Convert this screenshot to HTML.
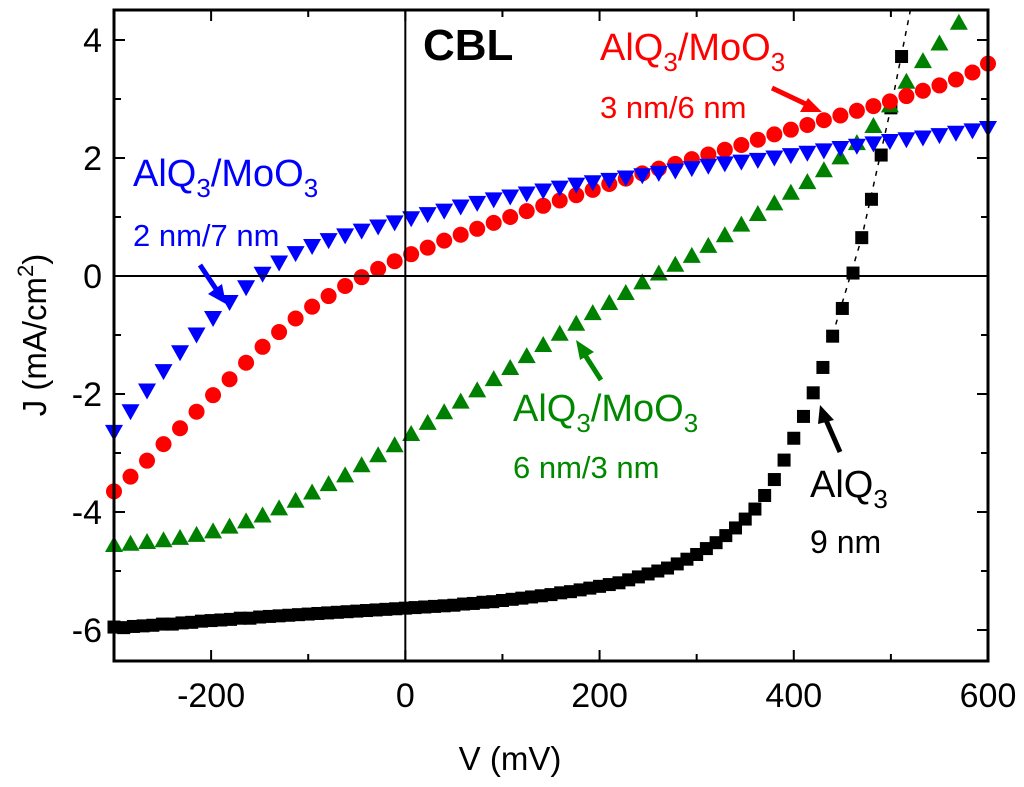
<!DOCTYPE html>
<html><head><meta charset="utf-8"><style>
body{margin:0;background:#fff;}
svg{display:block;font-family:"Liberation Sans",Arial,sans-serif;}
</style></head><body>
<svg id="chart" width="1024" height="787" xmlns="http://www.w3.org/2000/svg">
<g id="marks"></g>
<g id="axes"></g>
<text x="423" y="60" font-size="44" font-weight="bold" fill="#000">CBL</text>
<g fill="#f00" font-size="38">
<text x="600" y="60">AlQ<tspan font-size="26" dy="11">3</tspan><tspan dy="-11">/MoO</tspan><tspan font-size="26" dy="11">3</tspan></text>
<text x="600" y="118" font-size="31">3 nm/6 nm</text>
</g>
<g fill="#00f" font-size="38">
<text x="133" y="186">AlQ<tspan font-size="26" dy="11">3</tspan><tspan dy="-11">/MoO</tspan><tspan font-size="26" dy="11">3</tspan></text>
<text x="133" y="246" font-size="31">2 nm/7 nm</text>
</g>
<g fill="#080" font-size="38">
<text x="513" y="421">AlQ<tspan font-size="26" dy="11">3</tspan><tspan dy="-11">/MoO</tspan><tspan font-size="26" dy="11">3</tspan></text>
<text x="513" y="478" font-size="31">6 nm/3 nm</text>
</g>
<g fill="#000" font-size="38">
<text x="810" y="497">AlQ<tspan font-size="26" dy="11">3</tspan></text>
<text x="810" y="553" font-size="32">9 nm</text>
</g>
<g stroke-width="5">
<line x1="772" y1="88" x2="810" y2="106" stroke="#f00"/><polygon points="822,112 800,112 808,98" fill="#f00"/>
<line x1="200" y1="265" x2="218" y2="292" stroke="#00f"/><polygon points="226,304 208,294 222,284" fill="#00f"/>
<line x1="601" y1="380" x2="585" y2="355" stroke="#080"/><polygon points="576,340 594,352 580,360" fill="#080"/>
<line x1="840" y1="452" x2="826" y2="420" stroke="#000"/><polygon points="820,405 834,420 818,424" fill="#000"/>
</g>
<text x="510" y="770" font-size="33" text-anchor="middle" fill="#000">V (mV)</text>
<text transform="translate(46,335) rotate(-90)" font-size="33" text-anchor="middle" fill="#000">J (mA/cm<tspan font-size="22" dy="-13">2</tspan><tspan dy="13">)</tspan></text>
</svg>
<script>
const blackV=[-300,-290,-280,-270,-260,-250,-240,-230,-220,-210,-200,-190,-180,-170,-160,-150,-140,-130,-120,-110,-100,-90,-80,-70,-60,-50,-40,-30,-20,-10,0,10,20,30,40,50,60,70,80,90,100,110,120,130,140,150,160,170,180,190,200,210,220,230,240,250,260,270,280,290,300,310,320,330,340,350,360,370,380,390,400,410,420,430,440,450,461,470,480,490,500,511];
const blackJ=[-5.95,-5.96,-5.94,-5.93,-5.92,-5.9,-5.9,-5.88,-5.87,-5.85,-5.84,-5.83,-5.82,-5.8,-5.8,-5.78,-5.77,-5.76,-5.75,-5.74,-5.73,-5.72,-5.71,-5.7,-5.69,-5.68,-5.67,-5.66,-5.65,-5.64,-5.63,-5.62,-5.61,-5.6,-5.59,-5.58,-5.56,-5.55,-5.53,-5.52,-5.5,-5.48,-5.46,-5.44,-5.42,-5.4,-5.37,-5.35,-5.32,-5.29,-5.26,-5.23,-5.2,-5.15,-5.1,-5.05,-5.0,-4.95,-4.88,-4.8,-4.72,-4.62,-4.52,-4.4,-4.27,-4.12,-3.95,-3.72,-3.45,-3.12,-2.75,-2.38,-1.98,-1.55,-1.02,-0.55,0.05,0.65,1.3,2.05,2.85,3.72];
const redV=[-300,-283,-266,-249,-232,-215,-198,-181,-164,-147,-130,-113,-96,-79,-62,-45,-28,-11,6,23,40,57,74,91,108,125,142,159,176,193,210,227,244,261,278,295,312,329,346,363,380,397,414,431,448,465,482,499,516,533,550,567,584,600];
const redJ=[-3.65,-3.4,-3.13,-2.85,-2.58,-2.3,-2.02,-1.75,-1.47,-1.2,-0.95,-0.72,-0.52,-0.34,-0.17,-0.02,0.12,0.25,0.37,0.48,0.6,0.7,0.8,0.9,1.0,1.1,1.19,1.28,1.37,1.46,1.56,1.65,1.74,1.82,1.9,1.98,2.06,2.14,2.22,2.31,2.4,2.48,2.56,2.64,2.72,2.8,2.88,2.96,3.05,3.14,3.23,3.33,3.45,3.6];
const blueV=[-300,-283,-266,-249,-232,-215,-198,-181,-164,-147,-130,-113,-96,-79,-62,-45,-28,-11,6,23,40,57,74,91,108,125,142,159,176,193,210,227,244,261,278,295,312,329,346,363,380,397,414,431,448,465,482,499,516,533,550,567,584,600];
const blueJ=[-2.65,-2.3,-1.95,-1.62,-1.3,-1.0,-0.72,-0.45,-0.2,0.03,0.22,0.38,0.5,0.6,0.68,0.76,0.83,0.9,0.97,1.04,1.1,1.17,1.23,1.29,1.34,1.39,1.44,1.49,1.54,1.58,1.62,1.66,1.7,1.74,1.78,1.82,1.86,1.9,1.93,1.96,2.0,2.04,2.08,2.12,2.16,2.2,2.24,2.28,2.31,2.34,2.38,2.42,2.46,2.5];
const greenV=[-300,-283,-266,-249,-232,-215,-198,-181,-164,-147,-130,-113,-96,-79,-62,-45,-28,-11,6,23,40,57,74,91,108,125,142,159,176,193,210,227,244,261,278,295,312,329,346,363,380,397,414,431,448,465,482,499,516,533,550,570];
const greenJ=[-4.55,-4.53,-4.5,-4.47,-4.43,-4.38,-4.32,-4.24,-4.15,-4.05,-3.93,-3.8,-3.66,-3.52,-3.37,-3.2,-3.03,-2.86,-2.67,-2.48,-2.3,-2.12,-1.93,-1.74,-1.55,-1.35,-1.16,-0.97,-0.8,-0.62,-0.45,-0.28,-0.1,0.05,0.2,0.35,0.52,0.7,0.88,1.06,1.24,1.42,1.6,1.8,2.02,2.26,2.55,2.9,3.3,3.65,3.95,4.3];
const xTicks=[-200,0,200,400,600];
const yTicks=[-6,-4,-2,0,2,4];
const NS='http://www.w3.org/2000/svg';
const L=114,R=988,T=10,B=661;
const sx=v=>L+(v+300)/900*(R-L);
const sy=j=>276-j*59;
const marks=document.getElementById('marks'),axes=document.getElementById('axes');
function mk(tag,attrs,parent){const e=document.createElementNS(NS,tag);for(const k in attrs)e.setAttribute(k,attrs[k]);parent.appendChild(e);return e;}
let zl=mk('line',{x1:L,x2:R,y1:sy(0),y2:sy(0),stroke:'#000','stroke-width':2},axes);


let zv=mk('line',{x1:sx(0),x2:sx(0),y1:T,y2:B,stroke:'#000','stroke-width':2},axes);


let dl=mk('path',{d:'M'+sx(440)+','+sy(-1)+' L'+sx(470)+','+sy(0.65)+' L'+sx(500)+','+sy(2.85)+' L'+sx(520)+','+sy(4.5),fill:'none',stroke:'#000','stroke-width':1.5,'stroke-dasharray':'5,6'},marks);


function series(V,J,color,shape,name){
  const g=mk('g',{fill:color},marks);
  
  
  V.forEach((v,i)=>{
    const x=sx(v),y=sy(J[i]);let e;
    if(shape==='sq') e=mk('rect',{x:x-6.5,y:y-6.5,width:13,height:13},g);
    else if(shape==='ci') e=mk('circle',{cx:x,cy:y,r:8},g);
    else if(shape==='dn') e=mk('polygon',{points:`${x-9},${y-7.5} ${x+9},${y-7.5} ${x},${y+8.5}`},g);
    else e=mk('polygon',{points:`${x-9},${y+7.5} ${x+9},${y+7.5} ${x},${y-8.5}`},g);
    
    
  });
}
series(blackV,blackJ,'#000','sq','series-alq3-9nm');
series(greenV,greenJ,'#008000','up','series-6nm-3nm');
series(redV,redJ,'#f00','ci','series-3nm-6nm');
series(blueV,blueJ,'#00f','dn','series-2nm-7nm');
let fr=mk('rect',{x:L,y:T,width:R-L,height:B-T,fill:'none',stroke:'#000','stroke-width':3},axes);


for(let v=-300;v<=600;v+=100){const x=sx(v),len=(v%200===0)?11:7;
  mk('line',{x1:x,x2:x,y1:B,y2:B-len,stroke:'#000','stroke-width':2},axes);
  mk('line',{x1:x,x2:x,y1:T,y2:T+len,stroke:'#000','stroke-width':2},axes);}
for(let j=-6;j<=4;j+=1){const y=sy(j),len=(j%2===0)?11:7;
  mk('line',{x1:L,x2:L+len,y1:y,y2:y,stroke:'#000','stroke-width':2},axes);
  mk('line',{x1:R,x2:R-len,y1:y,y2:y,stroke:'#000','stroke-width':2},axes);}
xTicks.forEach(v=>{const t=mk('text',{x:sx(v),y:707,'font-size':34,'text-anchor':'middle'},axes);t.textContent=v;
  
  });
yTicks.forEach(j=>{const t=mk('text',{x:102,y:sy(j)+12,'font-size':34,'text-anchor':'end'},axes);t.textContent=j;
  
  });
</script>
</body></html>
